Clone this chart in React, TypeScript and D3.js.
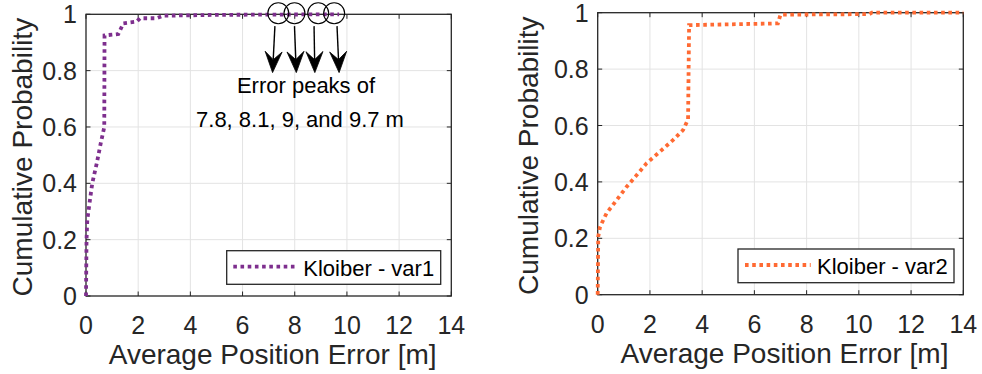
import React, { useEffect } from "react";
import * as d3 from "d3";

// ---- data ----
const xTicks = [0, 2, 4, 6, 8, 10, 12, 14];
const yTicks = [0, 0.2, 0.4, 0.6, 0.8, 1];
const yTickLabels = ["0", "0.2", "0.4", "0.6", "0.8", "1"];

const var1X = [0, 0.02, 0.05, 0.15, 0.24, 0.41, 0.56, 0.69, 0.7, 0.71, 1.24, 1.43, 1.94, 2.07, 2.7, 2.96, 5, 9.7];
const var1Y = [0, 0.2, 0.27, 0.34, 0.4, 0.47, 0.54, 0.595, 0.6, 0.925, 0.93, 0.968, 0.974, 0.986, 0.986, 0.995, 0.998, 1];

const var2X = [0, 0.02, 0.09, 0.34, 0.73, 1.11, 1.49, 1.87, 2.38, 2.89, 3.27, 3.42, 3.46, 3.5, 6.9, 7.0, 10.4, 10.5, 14];
const var2Y = [0, 0.206, 0.241, 0.289, 0.336, 0.383, 0.424, 0.466, 0.507, 0.549, 0.584, 0.614, 0.62, 0.956, 0.962, 0.993, 0.995, 1, 1];

const seriesNames = ["Kloiber - var1", "Kloiber - var2"];
const xLabel = "Average Position Error [m]";
const yLabel = "Cumulative Probability";

// annotation (left panel): peak circles and arrows, in data units
const peakCircleX = [7.37, 7.99, 8.9, 9.51];
const arrowStartX = [7.24, 7.99, 8.74, 9.62];
const arrowEndX = [7.15, 8.06, 8.77, 9.7];
const arrowStartY = 0.958;
const arrowEndY = 0.793;
const annotationLines = ["Error peaks of", "7.8, 8.1, 9, and 9.7 m"];

const FONT = "'Liberation Sans', Arial, Helvetica, sans-serif";
const AX = "#262626";

type PanelProps = {
  x0: number; x1: number; y0: number; y1: number;
  xs: number[]; ys: number[]; color: string; name: string;
  legend: { bx0: number; bx1: number; by0: number; by1: number; lx0: number; lx1: number; ly: number; tx: number; tb: number };
  ylabX: number; xlabB: number; annotate?: boolean;
};

function Arrow({ x1, y1, x2, y2 }: { x1: number; y1: number; x2: number; y2: number }) {
  const dx = x2 - x1, dy = y2 - y1;
  const len = Math.hypot(dx, dy);
  const ux = dx / len, uy = dy / len;
  const px = -uy, py = ux;
  const L = 21, W = 8.5, notch = 13;
  const bx = x2 - ux * L, by = y2 - uy * L;
  const nx = x2 - ux * notch, ny = y2 - uy * notch;
  const pts = [
    [x2, y2],
    [bx + px * W, by + py * W],
    [nx, ny],
    [bx - px * W, by - py * W],
  ];
  return (
    <g>
      <line x1={x1} y1={y1} x2={nx} y2={ny} stroke="#000" strokeWidth={1.4} />
      <polygon points={pts.map((p) => p.join(",")).join(" ")} fill="#000" stroke="#000" strokeWidth={0.8} strokeLinejoin="miter" />
    </g>
  );
}

function Panel(p: PanelProps) {
  const x = d3.scaleLinear().domain([0, 14]).range([p.x0, p.x1]);
  const y = d3.scaleLinear().domain([0, 1]).range([p.y1, p.y0]);
  const pts: [number, number][] = p.xs.map((v, i) => [v, p.ys[i]]);
  const line = d3.line<[number, number]>().x((d) => x(d[0])).y((d) => y(d[1]));
  const tl = 4.5;
  const dash = "3.6 3.6";
  return (
    <g>
      {/* grid */}
      {xTicks.slice(1, -1).map((t) => (
        <line key={"gx" + t} x1={x(t)} x2={x(t)} y1={p.y0} y2={p.y1} stroke="#e3e3e3" strokeWidth={1} />
      ))}
      {yTicks.slice(1, -1).map((t) => (
        <line key={"gy" + t} x1={p.x0} x2={p.x1} y1={y(t)} y2={y(t)} stroke="#e3e3e3" strokeWidth={1} />
      ))}
      {/* ticks */}
      {xTicks.map((t) => (
        <g key={"tx" + t}>
          <line x1={x(t)} x2={x(t)} y1={p.y1} y2={p.y1 - tl} stroke={AX} strokeWidth={1} />
          <line x1={x(t)} x2={x(t)} y1={p.y0} y2={p.y0 + tl} stroke={AX} strokeWidth={1} />
          <text x={x(t)} y={p.y1 + 38} textAnchor="middle" fontSize={25} fill={AX} fontFamily={FONT}>{t}</text>
        </g>
      ))}
      {yTicks.map((t, i) => (
        <g key={"ty" + t}>
          <line x1={p.x0} x2={p.x0 + tl} y1={y(t)} y2={y(t)} stroke={AX} strokeWidth={1} />
          <line x1={p.x1} x2={p.x1 - tl} y1={y(t)} y2={y(t)} stroke={AX} strokeWidth={1} />
          <text x={p.x0 - 9} y={y(t) + 9} textAnchor="end" fontSize={25} fill={AX} fontFamily={FONT}>{yTickLabels[i]}</text>
        </g>
      ))}
      {/* box */}
      <rect x={p.x0} y={p.y0} width={p.x1 - p.x0} height={p.y1 - p.y0} fill="none" stroke={AX} strokeWidth={1.3} />
      {/* series */}
      <path d={line(pts) || ""} fill="none" stroke={p.color} strokeWidth={3.8} strokeDasharray={dash} />
      {/* labels */}
      <text x={(p.x0 + p.x1) / 2 + 4} y={p.xlabB} textAnchor="middle" fontSize={28} fill={AX} fontFamily={FONT}>{xLabel}</text>
      <text transform={`translate(${p.ylabX},${(p.y0 + p.y1) / 2 + 2}) rotate(-90)`} textAnchor="middle" fontSize={28} fill={AX} fontFamily={FONT}>{yLabel}</text>
      {/* legend */}
      <rect x={p.legend.bx0} y={p.legend.by0} width={p.legend.bx1 - p.legend.bx0} height={p.legend.by1 - p.legend.by0} fill="#fff" stroke={AX} strokeWidth={1.3} />
      <line x1={p.legend.lx0} x2={p.legend.lx1} y1={p.legend.ly} y2={p.legend.ly} stroke={p.color} strokeWidth={3.8} strokeDasharray={dash} />
      <text x={p.legend.tx} y={p.legend.tb} fontSize={22} fill="#000" fontFamily={FONT}>{p.name}</text>
      {p.annotate && (
        <g>
          {peakCircleX.map((c, i) => (
            <circle key={"c" + i} cx={x(c)} cy={y(1) - 1} r={10.5} fill="none" stroke="#000" strokeWidth={1.1} />
          ))}
          {arrowStartX.map((s, i) => (
            <Arrow key={"a" + i} x1={x(s)} y1={y(arrowStartY)} x2={x(arrowEndX[i])} y2={y(arrowEndY)} />
          ))}
          <text x={306} y={92.7} textAnchor="middle" fontSize={22} fill="#000" fontFamily={FONT}>{annotationLines[0]}</text>
          <text x={300} y={126.7} textAnchor="middle" fontSize={22} fill="#000" fontFamily={FONT}>{annotationLines[1]}</text>
        </g>
      )}
    </g>
  );
}

export default function App() {
  useEffect(() => {
    document.body.style.margin = "0";
  }, []);
  return (
    <svg width={982} height={374} style={{ display: "block", position: "absolute", left: 0, top: 0, background: "#fff" }}>
      <rect x={0} y={0} width={982} height={374} fill="#fff" />
      <Panel
        x0={86} x1={451.3} y0={14.3} y1={296}
        xs={var1X} ys={var1Y} color="#7E2F8E" name={seriesNames[0]}
        legend={{ bx0: 226.7, bx1: 440.7, by0: 250.7, by1: 284.3, lx0: 233.3, lx1: 297.5, ly: 266.7, tx: 303.3, tb: 276 }}
        ylabX={31.7} xlabB={364} annotate
      />
      <Panel
        x0={597.7} x1={963.3} y0={12.7} y1={294.7}
        xs={var2X} ys={var2Y} color="#FF6A33" name={seriesNames[1]}
        legend={{ bx0: 738, bx1: 954, by0: 249, by1: 282.7, lx0: 745, lx1: 810.7, ly: 265, tx: 817, tb: 274.3 }}
        ylabX={538.3} xlabB={363} 
      />
    </svg>
  );
}
